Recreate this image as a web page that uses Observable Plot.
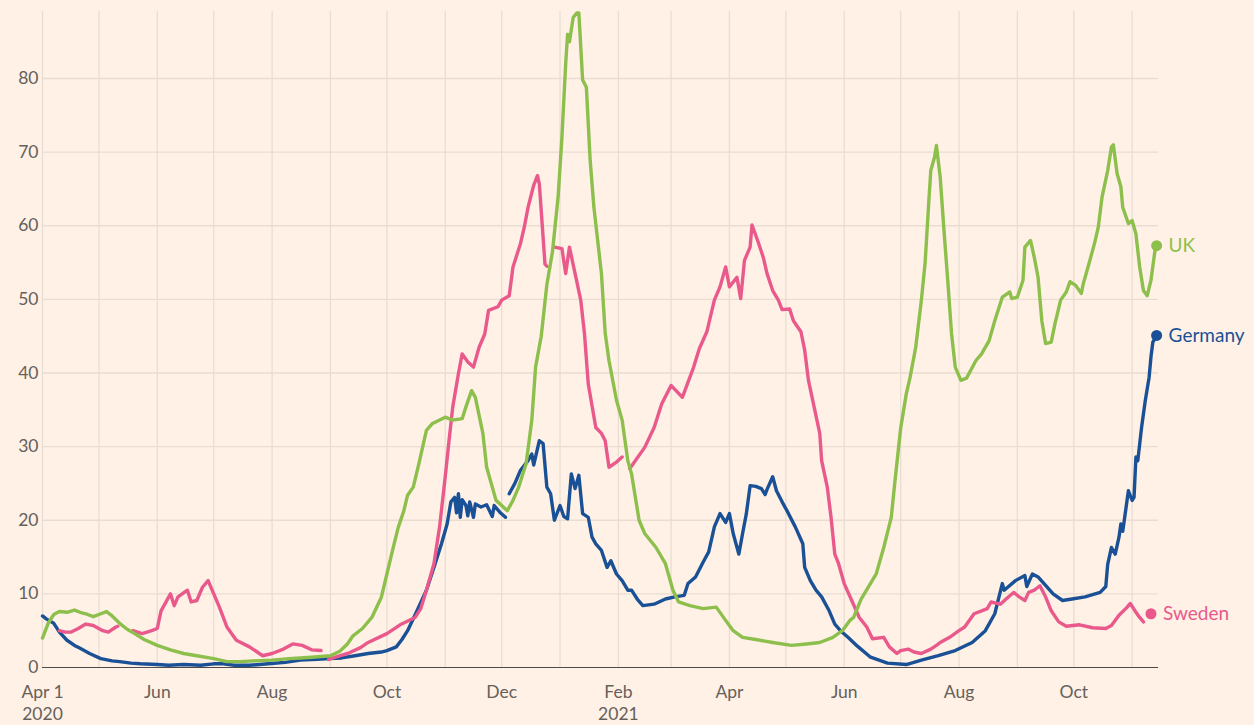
<!DOCTYPE html>
<html>
<head>
<meta charset="utf-8">
<script src="https://cdn.jsdelivr.net/npm/d3@7"></script>
<script src="https://cdn.jsdelivr.net/npm/@observablehq/plot@0.6"></script>
<style>
  html, body { margin: 0; padding: 0; background: #FFF1E5; }
  #chart { width: 1254px; height: 725px; }
</style>
</head>
<body>
<div id="chart"></div>
<script>
// ---- Data ----
const countries = ["Germany", "Sweden", "UK"];
const countryColors = ["#1a5196", "#e9598b", "#8dbf4c"];

const uk = [
  ["2020-04-01",4.0],["2020-04-04",6.0],["2020-04-07",7.2],["2020-04-10",7.6],["2020-04-14",7.5],
  ["2020-04-18",7.8],["2020-04-21",7.5],["2020-04-25",7.2],["2020-04-28",6.9],["2020-05-02",7.3],
  ["2020-05-05",7.6],["2020-05-08",7.0],["2020-05-12",6.0],["2020-05-16",5.2],["2020-05-20",4.6],
  ["2020-05-25",3.8],["2020-06-01",3.0],["2020-06-08",2.4],["2020-06-15",1.9],["2020-06-22",1.6],
  ["2020-07-01",1.2],["2020-07-08",0.8],["2020-07-15",0.8],["2020-07-22",0.9],["2020-08-01",1.0],
  ["2020-08-10",1.2],["2020-08-16",1.3],["2020-08-22",1.4],["2020-09-01",1.6],["2020-09-06",2.2],
  ["2020-09-10",3.2],["2020-09-13",4.3],["2020-09-18",5.3],["2020-09-23",6.8],["2020-09-28",9.5],
  ["2020-10-01",12.7],["2020-10-04",15.9],["2020-10-07",19.0],["2020-10-10",21.3],["2020-10-12",23.4],
  ["2020-10-15",24.5],["2020-10-18",27.7],["2020-10-22",32.2],["2020-10-25",33.1],["2020-11-01",34.0],
  ["2020-11-05",33.6],["2020-11-10",33.8],["2020-11-12",35.4],["2020-11-15",37.6],["2020-11-17",36.7],
  ["2020-11-21",31.8],["2020-11-23",27.2],["2020-11-28",22.7],["2020-12-01",22.0],["2020-12-04",21.3],
  ["2020-12-07",22.7],["2020-12-10",24.5],["2020-12-14",27.7],["2020-12-17",33.6],["2020-12-19",40.8],
  ["2020-12-22",45.0],["2020-12-25",52.0],["2020-12-28",56.5],["2020-12-31",64.0],["2021-01-02",72.0],
  ["2021-01-04",82.0],["2021-01-05",86.0],["2021-01-06",85.0],["2021-01-08",88.3],["2021-01-10",88.9],
  ["2021-01-11",88.9],["2021-01-13",79.8],["2021-01-15",78.8],["2021-01-17",68.9],["2021-01-19",62.5],
  ["2021-01-23",53.5],["2021-01-25",45.4],["2021-01-27",41.7],["2021-01-31",36.3],["2021-02-03",33.6],
  ["2021-02-06",28.1],["2021-02-08",26.3],["2021-02-12",20.0],["2021-02-15",18.2],["2021-02-21",16.3],
  ["2021-02-26",14.1],["2021-03-02",10.5],["2021-03-05",8.9],["2021-03-11",8.4],["2021-03-18",8.0],
  ["2021-03-25",8.2],["2021-03-30",6.4],["2021-04-03",5.0],["2021-04-08",4.1],["2021-04-15",3.8],
  ["2021-04-24",3.4],["2021-05-04",3.0],["2021-05-12",3.2],["2021-05-19",3.4],["2021-05-26",4.1],
  ["2021-05-31",5.0],["2021-06-04",6.4],["2021-06-06",6.8],["2021-06-10",9.3],["2021-06-18",12.7],
  ["2021-06-22",16.3],["2021-06-26",20.4],["2021-06-28",25.4],["2021-07-01",32.5],["2021-07-04",37.2],
  ["2021-07-06",39.4],["2021-07-09",43.5],["2021-07-12",49.9],["2021-07-14",55.0],["2021-07-16",63.5],
  ["2021-07-17",67.5],["2021-07-19",69.3],["2021-07-20",70.9],["2021-07-22",66.6],["2021-07-24",59.4],
  ["2021-07-26",52.6],["2021-07-28",45.4],["2021-07-30",40.8],["2021-08-02",39.0],["2021-08-05",39.3],
  ["2021-08-10",41.7],["2021-08-13",42.6],["2021-08-17",44.4],["2021-08-20",47.1],["2021-08-24",50.3],
  ["2021-08-28",51.0],["2021-08-29",50.1],["2021-09-01",50.3],["2021-09-04",52.6],["2021-09-05",57.1],
  ["2021-09-08",58.0],["2021-09-10",55.7],["2021-09-12",53.0],["2021-09-14",47.1],["2021-09-16",44.0],
  ["2021-09-19",44.2],["2021-09-21",46.7],["2021-09-24",49.9],["2021-09-27",51.0],["2021-09-29",52.4],
  ["2021-10-02",51.9],["2021-10-05",50.8],["2021-10-06",52.1],["2021-10-09",54.8],["2021-10-12",57.6],
  ["2021-10-14",59.8],["2021-10-16",63.9],["2021-10-19",67.5],["2021-10-21",70.7],["2021-10-22",71.0],
  ["2021-10-24",67.1],["2021-10-26",65.3],["2021-10-27",62.5],["2021-10-30",60.3],["2021-11-01",60.7],
  ["2021-11-03",58.9],["2021-11-05",54.4],["2021-11-07",51.2],["2021-11-09",50.5],["2021-11-11",52.6],
  ["2021-11-13",56.4],["2021-11-14",57.3]
];

const germany = [
  ["2020-04-01",7.0],["2020-04-03",6.6],["2020-04-07",6.0],["2020-04-10",4.8],["2020-04-14",3.7],
  ["2020-04-18",3.0],["2020-04-21",2.6],["2020-04-26",1.9],["2020-05-02",1.2],["2020-05-08",0.9],
  ["2020-05-12",0.8],["2020-05-18",0.6],["2020-05-23",0.5],["2020-06-01",0.4],["2020-06-07",0.3],
  ["2020-06-15",0.4],["2020-06-24",0.3],["2020-07-01",0.5],["2020-07-06",0.5],["2020-07-12",0.3],
  ["2020-07-20",0.3],["2020-07-30",0.5],["2020-08-08",0.7],["2020-08-16",1.0],["2020-08-25",1.1],
  ["2020-09-01",1.2],["2020-09-07",1.3],["2020-09-14",1.6],["2020-09-21",1.9],["2020-09-28",2.1],
  ["2020-10-01",2.3],["2020-10-06",2.8],["2020-10-09",3.8],["2020-10-12",5.0],["2020-10-17",7.7],
  ["2020-10-22",10.5],["2020-10-26",13.6],["2020-10-30",16.8],["2020-11-02",19.5],["2020-11-04",22.5],
  ["2020-11-06",23.1],["2020-11-07",21.0],["2020-11-08",23.6],["2020-11-09",20.4],["2020-11-10",22.8],
  ["2020-11-12",22.0],["2020-11-13",20.6],["2020-11-14",22.5],["2020-11-16",20.4],["2020-11-17",22.2],
  ["2020-11-20",21.8],["2020-11-23",22.1],["2020-11-26",20.5],["2020-11-27",22.0],["2020-11-30",21.1],
  ["2020-12-03",20.4],["2020-12-04",null],["2020-12-05",23.6],["2020-12-08",25.0],["2020-12-11",26.8],
  ["2020-12-15",28.1],["2020-12-17",29.0],["2020-12-18",27.5],["2020-12-21",30.8],["2020-12-23",30.4],
  ["2020-12-25",24.5],["2020-12-27",23.6],["2020-12-29",20.0],["2021-01-01",22.0],["2021-01-03",20.5],
  ["2021-01-05",20.2],["2021-01-07",26.3],["2021-01-09",24.3],["2021-01-11",26.1],["2021-01-13",20.9],
  ["2021-01-16",20.4],["2021-01-18",17.7],["2021-01-20",16.8],["2021-01-23",15.9],["2021-01-26",13.6],
  ["2021-01-28",14.5],["2021-01-31",12.7],["2021-02-03",11.8],["2021-02-06",10.5],["2021-02-08",10.5],
  ["2021-02-11",9.3],["2021-02-14",8.4],["2021-02-20",8.6],["2021-02-26",9.3],["2021-03-03",9.6],
  ["2021-03-08",9.8],["2021-03-10",11.4],["2021-03-14",12.3],["2021-03-18",14.3],["2021-03-21",15.7],
  ["2021-03-24",19.1],["2021-03-27",20.9],["2021-03-30",19.7],["2021-04-01",20.9],["2021-04-03",18.2],
  ["2021-04-06",15.4],["2021-04-08",18.2],["2021-04-10",20.9],["2021-04-12",24.7],["2021-04-15",24.6],
  ["2021-04-18",24.3],["2021-04-20",23.5],["2021-04-21",24.2],["2021-04-24",25.9],["2021-04-26",24.0],
  ["2021-04-29",22.5],["2021-05-02",21.1],["2021-05-06",19.1],["2021-05-10",16.8],["2021-05-11",13.6],
  ["2021-05-14",11.8],["2021-05-17",10.5],["2021-05-20",9.6],["2021-05-24",7.7],["2021-05-27",5.9],
  ["2021-05-30",5.0],["2021-06-03",4.1],["2021-06-08",2.9],["2021-06-15",1.4],["2021-06-24",0.6],
  ["2021-07-04",0.4],["2021-07-12",1.0],["2021-07-21",1.6],["2021-07-30",2.3],["2021-08-08",3.4],
  ["2021-08-15",5.0],["2021-08-20",7.3],["2021-08-24",11.4],["2021-08-25",10.5],["2021-08-31",11.8],
  ["2021-09-05",12.5],["2021-09-06",11.0],["2021-09-09",12.7],["2021-09-12",12.3],["2021-09-20",10.0],
  ["2021-09-25",9.1],["2021-09-30",9.3],["2021-10-07",9.6],["2021-10-15",10.2],["2021-10-18",11.0],
  ["2021-10-19",14.0],["2021-10-21",16.3],["2021-10-23",15.4],["2021-10-25",17.7],["2021-10-26",19.5],
  ["2021-10-27",18.5],["2021-10-30",24.0],["2021-11-01",22.7],["2021-11-02",23.1],["2021-11-03",28.6],
  ["2021-11-04",28.1],["2021-11-06",32.6],["2021-11-08",36.3],["2021-11-10",39.4],["2021-11-11",42.2],
  ["2021-11-12",44.2],["2021-11-14",45.1]
];

const sweden = [
  ["2020-04-10",5.0],["2020-04-13",4.8],["2020-04-16",4.8],["2020-04-20",5.3],["2020-04-24",5.9],
  ["2020-04-28",5.7],["2020-05-03",5.0],["2020-05-06",4.8],["2020-05-10",5.5],["2020-05-11",5.6],
  ["2020-05-15",null],["2020-05-19",5.0],["2020-05-24",4.6],["2020-05-29",5.0],["2020-06-01",5.3],
  ["2020-06-03",7.7],["2020-06-08",10.0],["2020-06-10",8.4],["2020-06-12",9.6],["2020-06-17",10.5],
  ["2020-06-19",8.9],["2020-06-22",9.1],["2020-06-25",10.9],["2020-06-28",11.8],["2020-07-01",10.0],
  ["2020-07-04",8.2],["2020-07-08",5.5],["2020-07-13",3.7],["2020-07-20",2.8],["2020-07-27",1.6],
  ["2020-08-01",1.9],["2020-08-07",2.5],["2020-08-12",3.2],["2020-08-17",3.0],["2020-08-22",2.4],
  ["2020-08-27",2.3],["2020-08-29",null],["2020-08-31",1.1],["2020-09-05",1.5],["2020-09-11",2.0],
  ["2020-09-17",2.7],["2020-09-21",3.4],["2020-10-01",4.6],["2020-10-08",5.8],["2020-10-16",6.8],
  ["2020-10-19",8.0],["2020-10-22",10.5],["2020-10-26",14.1],["2020-10-29",19.1],["2020-11-01",25.9],
  ["2020-11-03",30.8],["2020-11-05",35.4],["2020-11-08",39.9],["2020-11-10",42.6],["2020-11-13",41.5],
  ["2020-11-16",40.8],["2020-11-19",43.5],["2020-11-22",45.3],["2020-11-24",48.5],["2020-11-29",49.0],
  ["2020-12-01",49.9],["2020-12-05",50.5],["2020-12-07",54.4],["2020-12-11",57.6],["2020-12-13",59.8],
  ["2020-12-15",62.5],["2020-12-18",65.5],["2020-12-20",66.8],["2020-12-21",65.7],["2020-12-24",54.8],
  ["2020-12-25",54.5],["2020-12-27",null],["2020-12-29",57.1],["2021-01-02",56.9],["2021-01-04",53.5],
  ["2021-01-06",57.1],["2021-01-09",53.5],["2021-01-12",49.9],["2021-01-14",45.3],["2021-01-16",38.5],
  ["2021-01-20",32.6],["2021-01-23",31.8],["2021-01-25",30.8],["2021-01-27",27.2],["2021-01-31",27.9],
  ["2021-02-03",28.6],["2021-02-05",null],["2021-02-07",27.0],["2021-02-15",29.9],["2021-02-20",32.6],
  ["2021-02-24",35.8],["2021-03-01",38.3],["2021-03-04",37.5],["2021-03-07",36.7],["2021-03-13",40.8],
  ["2021-03-16",43.3],["2021-03-20",45.6],["2021-03-24",49.9],["2021-03-27",51.7],["2021-03-30",54.4],
  ["2021-04-01",51.7],["2021-04-05",53.0],["2021-04-07",50.1],["2021-04-09",55.3],["2021-04-12",57.1],
  ["2021-04-13",60.1],["2021-04-16",58.0],["2021-04-19",55.7],["2021-04-21",53.5],["2021-04-24",51.2],
  ["2021-04-27",49.9],["2021-04-29",48.6],["2021-05-03",48.7],["2021-05-05",47.1],["2021-05-09",45.6],
  ["2021-05-11",43.1],["2021-05-13",39.0],["2021-05-16",35.4],["2021-05-19",31.8],["2021-05-20",28.1],
  ["2021-05-23",24.5],["2021-05-25",20.4],["2021-05-27",15.4],["2021-05-29",14.1],["2021-06-01",11.4],
  ["2021-06-05",9.1],["2021-06-09",6.8],["2021-06-13",5.5],["2021-06-16",3.9],["2021-06-22",4.1],
  ["2021-06-25",2.8],["2021-06-29",1.9],["2021-07-01",2.3],["2021-07-05",2.5],["2021-07-08",2.1],
  ["2021-07-12",1.9],["2021-07-17",2.5],["2021-07-20",3.0],["2021-07-22",3.4],["2021-07-27",4.1],
  ["2021-08-01",5.0],["2021-08-04",5.5],["2021-08-09",7.3],["2021-08-13",7.7],["2021-08-16",8.0],
  ["2021-08-18",8.9],["2021-08-23",8.6],["2021-08-26",9.3],["2021-08-30",10.2],["2021-09-02",9.6],
  ["2021-09-05",9.1],["2021-09-07",10.2],["2021-09-10",10.5],["2021-09-13",11.1],["2021-09-16",9.6],
  ["2021-09-19",7.7],["2021-09-23",6.2],["2021-09-27",5.6],["2021-10-04",5.8],["2021-10-11",5.4],
  ["2021-10-18",5.3],["2021-10-21",5.7],["2021-10-25",7.1],["2021-10-29",8.1],["2021-10-31",8.7],
  ["2021-11-03",7.5],["2021-11-05",6.8],["2021-11-07",6.2],["2021-11-09",null],["2021-11-11",7.3]
];

const yTicks = [0, 10, 20, 30, 40, 50, 60, 70, 80];
const xTickDates = ["2020-04-01","2020-06-01","2020-08-01","2020-10-01","2020-12-01",
                    "2021-02-01","2021-04-01","2021-06-01","2021-08-01","2021-10-01"];
const xTickLabels = ["Apr 1\n2020","Jun","Aug","Oct","Dec","Feb\n2021","Apr","Jun","Aug","Oct"];
const xDomain = ["2020-04-01", "2021-11-15"];
const yMax = 89.1;

// ---- Build table ----
const seriesData = { Germany: germany, Sweden: sweden, UK: uk };
const rows = countries.flatMap(c =>
  seriesData[c].map(([d, v]) => ({ country: c, date: new Date(d), value: v == null ? NaN : v }))
);
const lastPoints = countries.map(c => {
  const s = seriesData[c];
  const [d, v] = s[s.length - 1];
  return { country: c, date: new Date(d), value: v };
});
const gridMonths = d3.utcMonth.range(new Date("2020-04-01"), new Date("2021-11-02"));
const tickDates = xTickDates.map(d => new Date(d));
const labelFor = new Map(tickDates.map((d, i) => [+d, xTickLabels[i]]));

const grid = "#e9ddd2";
const textColor = "#66605c";

const chart = Plot.plot({
  width: 1254,
  height: 725,
  marginLeft: 42,
  marginRight: 96,
  marginTop: 11,
  marginBottom: 58,
  style: {
    background: "#FFF1E5",
    fontFamily: "Lato, 'Noto Sans', sans-serif",
    fontSize: "17px",
    color: textColor,
    overflow: "visible"
  },
  x: { type: "utc", domain: xDomain.map(d => new Date(d)) },
  y: { domain: [0, yMax] },
  color: { domain: countries, range: countryColors },
  marks: [
    Plot.ruleX(gridMonths, { stroke: grid, strokeWidth: 1.3 }),
    Plot.ruleY(yTicks.filter(t => t > 0), { stroke: grid, strokeWidth: 1.3 }),
    Plot.axisY({ ticks: yTicks, tickSize: 0, tickPadding: 4, label: null, fill: textColor, fontSize: 17.5 }),
    Plot.axisX({ ticks: tickDates, tickSize: 0, tickPadding: 15, label: null, fill: textColor, fontSize: 17.5,
                 lineHeight: 1.25, tickFormat: d => labelFor.get(+d) ?? "" }),
    Plot.ruleY([0], { stroke: "#4f4a46", strokeWidth: 1.2 }),
    Plot.line(rows, { x: "date", y: "value", z: "country", stroke: "country", strokeWidth: 3.4,
                      strokeLinejoin: "round", strokeLinecap: "round" }),
    Plot.dot(lastPoints, { x: "date", y: "value", fill: "country", r: 5.5 }),
    Plot.text(lastPoints, { x: "date", y: "value", text: "country", fill: "country", dx: 12,
                            textAnchor: "start", fontSize: 19 })
  ]
});
document.getElementById("chart").appendChild(chart);
</script>
</body>
</html>
